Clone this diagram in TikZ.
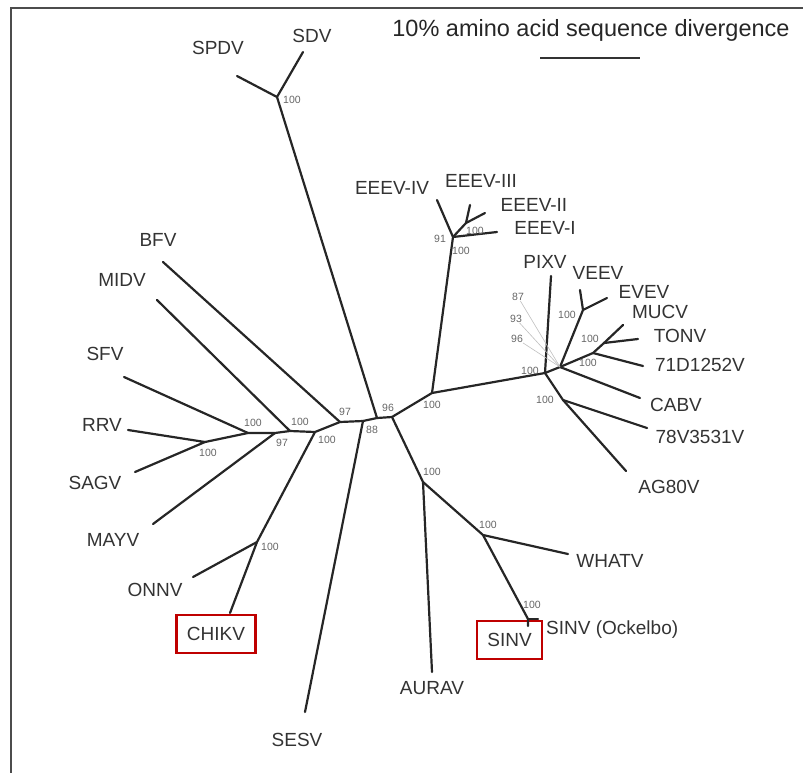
\documentclass[tikz,border=0pt]{standalone}
\usepackage{fontspec}
\setmainfont{Liberation Sans}
\tikzset{
	taxon/.style={text=black!80,font=\fontsize{19}{22}\selectfont,inner sep=1pt},
	boot/.style={text=black!60,font=\fontsize{10.5}{12}\selectfont,inner sep=0pt},
	branch/.style={line width=2.2pt,draw=black!85,line cap=round,line join=round},
	guide/.style={line width=0.6pt,draw=black!25},
	hilite/.style={draw=red!75!black,line width=2.4pt}
}

\begin{document}
\begin{tikzpicture}[x=1pt,y=-1pt]
	\useasboundingbox (0,0) rectangle (803,773);
	\draw[line width=2pt,black!70] (11,773) -- (11,8) -- (803,8);

	\node [text=black!85,font=\fontsize{23.5}{26}\selectfont,inner sep=0pt] (title) at (591,30) {10\% amino acid sequence divergence};
	\coordinate (sb-l) at (540,58);
	\coordinate (sb-r) at (640,58);
	\draw[line width=2pt,black!80] (sb-l) -- (sb-r);

	\node [taxon] (sdv) at (312,36) {SDV};
	\node [taxon] (spdv) at (218,48) {SPDV};
	\node [taxon] (bfv) at (158,240) {BFV};
	\node [taxon] (midv) at (122,280) {MIDV};
	\node [taxon] (sfv) at (105,354) {SFV};
	\node [taxon] (rrv) at (102,425) {RRV};
	\node [taxon] (sagv) at (95,483) {SAGV};
	\node [taxon] (mayv) at (113,540) {MAYV};
	\node [taxon] (onnv) at (155,590) {ONNV};
	\node [taxon,hilite,minimum width=79,minimum height=38] (chikv) at (216,634) {CHIKV};
	\node [taxon] (sesv) at (297,740) {SESV};
	\node [taxon] (aurav) at (432,688) {AURAV};
	\node [taxon,hilite,minimum width=65,minimum height=38] (sinv) at (509.5,640) {SINV};
	\node [taxon,anchor=west] (ockelbo) at (545,630) {SINV (Ockelbo)};
	\node [taxon] (whatv) at (610,561) {WHATV};
	\node [taxon] (ag80v) at (669,487) {AG80V};
	\node [taxon] (v78) at (700,437) {78V3531V};
	\node [taxon] (cabv) at (676,405) {CABV};
	\node [taxon] (v71) at (700,365) {71D1252V};
	\node [taxon] (tonv) at (680,336) {TONV};
	\node [taxon] (mucv) at (660,312) {MUCV};
	\node [taxon] (evev) at (644,292) {EVEV};
	\node [taxon] (veev) at (598,273) {VEEV};
	\node [taxon] (pixv) at (545,262) {PIXV};
	\node [taxon] (eeevi) at (545,228) {EEEV-I};
	\node [taxon] (eeevii) at (534,205) {EEEV-II};
	\node [taxon] (eeeviii) at (481,181) {EEEV-III};
	\node [taxon] (eeeviv) at (392,188) {EEEV-IV};

	\coordinate (t-sdv) at (303,52);
	\coordinate (t-spdv) at (237,76);
	\coordinate (t-bfv) at (163,262);
	\coordinate (t-midv) at (157,300);
	\coordinate (t-sfv) at (124,377);
	\coordinate (t-rrv) at (128,430);
	\coordinate (t-sagv) at (135,472);
	\coordinate (t-mayv) at (153,524);
	\coordinate (t-onnv) at (193,577);
	\coordinate (t-chikv) at (230,613);
	\coordinate (t-sesv) at (305,712);
	\coordinate (t-aurav) at (432,672);
	\coordinate (t-sinv) at (528,626);
	\coordinate (t-ockelbo) at (538,619);
	\coordinate (t-whatv) at (568,554);
	\coordinate (t-ag80v) at (626,471);
	\coordinate (t-v78) at (647,428);
	\coordinate (t-cabv) at (640,398);
	\coordinate (t-v71) at (643,366);
	\coordinate (t-tonv) at (638,339);
	\coordinate (t-mucv) at (623,325);
	\coordinate (t-evev) at (607,298);
	\coordinate (t-veev) at (580,290);
	\coordinate (t-pixv) at (551,276);
	\coordinate (t-eeevi) at (497,232);
	\coordinate (t-eeevii) at (485,213);
	\coordinate (t-eeeviii) at (470,205);
	\coordinate (t-eeeviv) at (437,200);

	\coordinate (n-sd) at (277,97);
	\coordinate (n-rs) at (205,442);
	\coordinate (n-sf) at (248,433);
	\coordinate (n-ma) at (275,433);
	\coordinate (n-mi) at (290,431);
	\coordinate (n-ch) at (315,432);
	\coordinate (n-co) at (257,542);
	\coordinate (n-bf) at (340,422);
	\coordinate (n-se) at (363,421);
	\coordinate (n-c) at (377,418);
	\coordinate (n-x) at (392,417);
	\coordinate (n-ev) at (432,393);
	\coordinate (n-ee) at (453,237);
	\coordinate (n-e2) at (466,223);
	\coordinate (n-ve) at (545,373);
	\coordinate (n-vn) at (560,367);
	\coordinate (n-vv) at (583,310);
	\coordinate (n-mu) at (593,353);
	\coordinate (n-to) at (604,343);
	\coordinate (n-ag) at (563,400);
	\coordinate (n-au) at (423,482);
	\coordinate (n-wh) at (483,535);
	\coordinate (n-si) at (528,619);

	\draw[branch] (t-rrv) -- (n-rs) -- (t-sagv);
	\draw[branch] (n-rs) -- (n-sf) -- (n-ma) -- (n-mi) -- (n-ch) -- (n-bf) -- (n-se) -- (n-c) -- (n-x) -- (n-ev) -- (n-ve) -- (n-vn);
	\draw[branch] (t-sfv) -- (n-sf);
	\draw[branch] (t-mayv) -- (n-ma);
	\draw[branch] (t-midv) -- (n-mi);
	\draw[branch] (n-ch) -- (n-co) -- (t-chikv);
	\draw[branch] (t-onnv) -- (n-co);
	\draw[branch] (t-bfv) -- (n-bf);
	\draw[branch] (t-sesv) -- (n-se);
	\draw[branch] (n-c) -- (n-sd) -- (t-sdv);
	\draw[branch] (t-spdv) -- (n-sd);
	\draw[branch] (n-ev) -- (n-ee) -- (t-eeeviv);
	\draw[branch] (n-ee) -- (n-e2) -- (t-eeeviii);
	\draw[branch] (n-e2) -- (t-eeevii);
	\draw[branch] (n-ee) -- (t-eeevi);
	\draw[branch] (n-ve) -- (t-pixv);
	\draw[branch] (n-vn) -- (n-vv) -- (t-veev);
	\draw[branch] (n-vv) -- (t-evev);
	\draw[branch] (n-vn) -- (n-mu) -- (n-to) -- (t-mucv);
	\draw[branch] (n-to) -- (t-tonv);
	\draw[branch] (n-mu) -- (t-v71);
	\draw[branch] (n-vn) -- (t-cabv);
	\draw[branch] (n-ve) -- (n-ag) -- (t-v78);
	\draw[branch] (n-ag) -- (t-ag80v);
	\draw[branch] (n-x) -- (n-au) -- (t-aurav);
	\draw[branch] (n-au) -- (n-wh) -- (t-whatv);
	\draw[branch] (n-wh) -- (n-si) -- (t-sinv);
	\draw[branch] (n-si) -- (t-ockelbo);

	\node [boot] (b-sd) at (292,100) {100};
	\node [boot] (b-ee1) at (440,239) {91};
	\node [boot] (b-ee2) at (475,231) {100};
	\node [boot] (b-ee3) at (461,251) {100};
	\node [boot] (b87) at (518,297) {87};
	\node [boot] (b93) at (516,319) {93};
	\node [boot] (b96) at (517,339) {96};
	\node [boot] (b-vv) at (567,315) {100};
	\node [boot] (b-mu1) at (590,339) {100};
	\node [boot] (b-mu2) at (588,363) {100};
	\node [boot] (b-ve) at (530,371) {100};
	\node [boot] (b-ag) at (545,400) {100};
	\node [boot] (b-sf) at (253,423) {100};
	\node [boot] (b-rs) at (208,453) {100};
	\node [boot] (b-mi) at (300,422) {100};
	\node [boot] (b-ma) at (282,443) {97};
	\node [boot] (b-bf) at (345,412) {97};
	\node [boot] (b-ch) at (327,440) {100};
	\node [boot] (b-se) at (372,430) {88};
	\node [boot] (b-c) at (388,408) {96};
	\node [boot] (b-ev) at (432,405) {100};
	\node [boot] (b-au) at (432,472) {100};
	\node [boot] (b-wh) at (488,525) {100};
	\node [boot] (b-si) at (532,605) {100};
	\node [boot] (b-co) at (270,547) {100};

	\draw[guide] (b87) -- (n-vn);
	\draw[guide] (b93) -- (n-vn);
	\draw[guide] (b96) -- (n-vn);
\end{tikzpicture}
\end{document}
